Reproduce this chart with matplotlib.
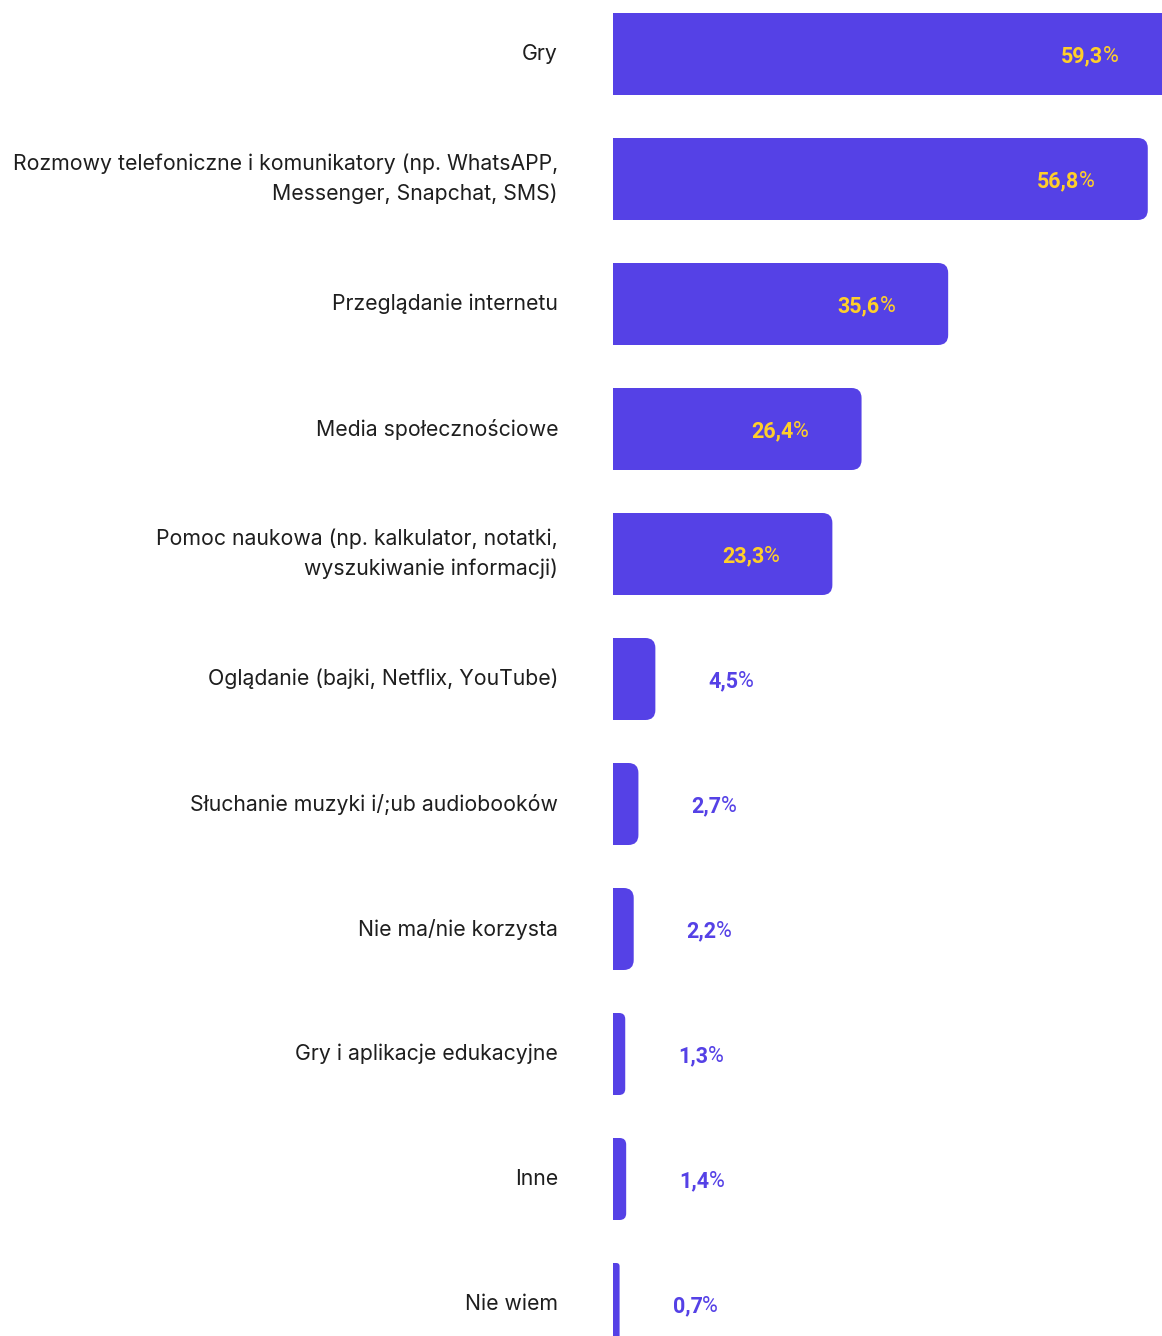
import matplotlib
matplotlib.use("Agg")
import matplotlib.pyplot as plt
from matplotlib.patches import FancyBboxPatch, Rectangle

# Data
categories = [
    "Gry",
    "Rozmowy telefoniczne i komunikatory (np. WhatsAPP,\nMessenger, Snapchat, SMS)",
    "Przeglądanie internetu",
    "Media społecznościowe",
    "Pomoc naukowa (np. kalkulator, notatki,\nwyszukiwanie informacji)",
    "Oglądanie (bajki, Netflix, YouTube)",
    "Słuchanie muzyki i/;ub audiobooków",
    "Nie ma/nie korzysta",
    "Gry i aplikacje edukacyjne",
    "Inne",
    "Nie wiem",
]
values = [59.3, 56.8, 35.6, 26.4, 23.3, 4.5, 2.7, 2.2, 1.3, 1.4, 0.7]
value_labels = ["59,3", "56,8", "35,6", "26,4", "23,3", "4,5", "2,7", "2,2", "1,3", "1,4", "0,7"]

BAR = "#5541E6"
YELLOW = "#FFCF2A"
TEXT = "#1e1e1e"

W, H, DPI = 1162, 1336, 100
fig = plt.figure(figsize=(W / DPI, H / DPI), dpi=DPI)
fig.patch.set_facecolor("white")

left_px = 613
px_per_unit = 9.415
ax = fig.add_axes([left_px / W, 0, 1 - left_px / W, 1])
ax.set_xlim(0, (W - left_px) / px_per_unit)
row_px, first_px = 125, 54
ax.set_ylim((H - first_px) / row_px, -first_px / row_px)
ax.axis("off")

bar_h = 82 / row_px
radius_px = 10
aspect = (1 / row_px) / (1 / px_per_unit)

for i, v in enumerate(values):
    r = min(radius_px / px_per_unit, v / 2)
    y0 = i - bar_h / 2
    ax.add_patch(FancyBboxPatch((0, y0), v, bar_h,
                                boxstyle=f"round,pad=0,rounding_size={r}",
                                mutation_aspect=aspect, fc=BAR, ec="none"))
    ax.add_patch(Rectangle((0, y0), v / 2, bar_h, fc=BAR, ec="none"))

    ax.annotate(categories[i], xy=(0, i), xytext=(-55, 0), textcoords="offset pixels",
                ha="right", va="center", fontsize=15.3, color=TEXT,
                family="Inter", linespacing=1.6, annotation_clip=False)

fig.canvas.draw()
renderer = fig.canvas.get_renderer()

for i, v in enumerate(values):
    inside = v > 20
    color = YELLOW if inside else BAR
    num = ax.annotate(value_labels[i], xy=(v, i), xytext=(0, 0), textcoords="offset pixels",
                      ha="left", va="center_baseline", fontsize=15.5, fontweight="bold",
                      color=color, family="Roboto", annotation_clip=False)
    pct = ax.annotate("%", xy=(v, i), xytext=(0, 0), textcoords="offset pixels",
                      ha="left", va="center_baseline", fontsize=15.5, fontweight="normal",
                      color=color, family="Roboto", annotation_clip=False)
    nw = num.get_window_extent(renderer).width
    pw = pct.get_window_extent(renderer).width
    gap = -0.5
    if inside:
        start = -53 - pw - gap - nw
    else:
        start = 53
    num.set_position((start, 0))
    pct.set_position((start + nw + gap, 0))

fig.savefig("out.png", dpi=DPI, facecolor="white")
